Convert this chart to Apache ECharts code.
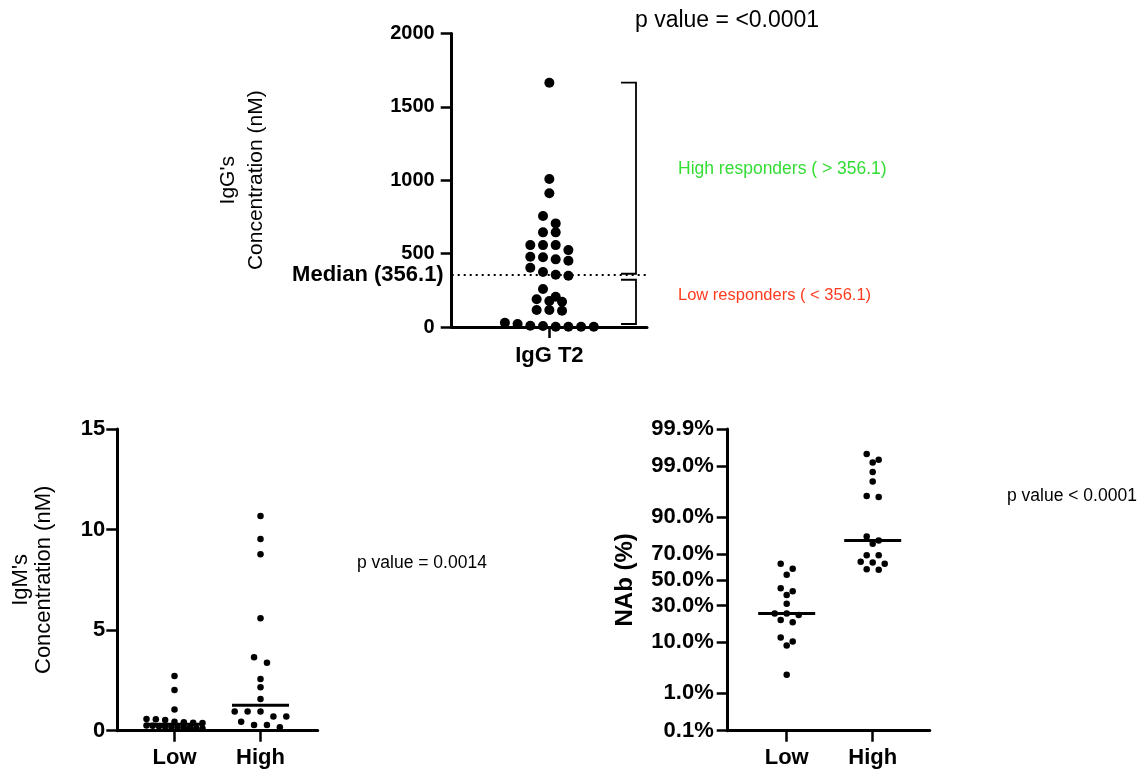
<!DOCTYPE html>
<html>
<head>
<meta charset="utf-8">
<script src="https://cdn.jsdelivr.net/npm/echarts@6.0.0/dist/echarts.min.js"></script>
<style>
  body { margin: 0; background: #fff; }
  #chart { width: 1146px; height: 773px; }
</style>
</head>
<body>
<div id="chart"></div>
<script>
// --- data ---
const iggCategory = ['IgG T2'];
const iggT2 = [1665, 1008, 911, 756, 706, 645, 645, 558, 558, 558, 524, 479, 475, 461, 452,
  404, 375, 356.1, 349, 259, 206, 189, 177, 172, 116, 116, 111, 29, 20, 9, 7, 2, 2, 2, 2];

const groups = ['Low', 'High'];
const igmLow = [2.72, 2.02, 1.06, 0.58, 0.57, 0.53, 0.44, 0.42, 0.40, 0.38,
  0.26, 0.24, 0.22, 0.20, 0.18, 0.17, 0.16, 0.15, 0.13, 0.11];
const igmHigh = [10.68, 9.53, 8.77, 5.59, 3.65, 3.38, 2.57, 2.16, 1.58,
  0.95, 0.95, 0.95, 0.70, 0.70, 0.45, 0.28, 0.28, 0.17];

const nabLow = [62.9, 58.9, 54.1, 43.2, 40.8, 37.9, 31.2, 24.6, 24.6, 23.6, 20.6, 19.2, 11.9, 10.3, 8.9, 2.6];
const nabHigh = [99.50, 99.31, 99.19, 98.64, 97.8, 95.7, 95.5, 81.3, 79.0, 77.0, 69.3, 69.3, 64.4, 63.9, 62.9, 58.5, 58.1];
const nabTicks = [0.1, 1, 10, 30, 50, 70, 90, 99, 99.9];

const FONT = 'Liberation Sans, Arial, sans-serif';

function median(arr) {
    const s = arr.slice().sort((a, b) => a - b);
    const m = Math.floor(s.length / 2);
    return s.length % 2 ? s[m] : (s[m - 1] + s[m]) / 2;
}

// inverse normal cdf (Acklam) for the probability axis
function probit(p) {
    const a = [-3.969683028665376e+01, 2.209460984245205e+02, -2.759285104469687e+02, 1.383577518672690e+02, -3.066479806614716e+01, 2.506628277459239e+00];
    const b = [-5.447609879822406e+01, 1.615858368580409e+02, -1.556989798598866e+02, 6.680131188771972e+01, -1.328068155288572e+01];
    const c = [-7.784894002430293e-03, -3.223964580411365e-01, -2.400758277161838e+00, -2.549732539343734e+00, 4.374664141464968e+00, 2.938163982698783e+00];
    const d = [7.784695709041462e-03, 3.224671290700398e-01, 2.445134176071144e+00, 3.754408061089303e+00];
    const plow = 0.02425;
    let q, r;
    if (p < plow) {
        q = Math.sqrt(-2 * Math.log(p));
        return (((((c[0]*q+c[1])*q+c[2])*q+c[3])*q+c[4])*q+c[5]) / ((((d[0]*q+d[1])*q+d[2])*q+d[3])*q+1);
    }
    if (p <= 1 - plow) {
        q = p - 0.5; r = q * q;
        return (((((a[0]*r+a[1])*r+a[2])*r+a[3])*r+a[4])*r+a[5])*q / (((((b[0]*r+b[1])*r+b[2])*r+b[3])*r+b[4])*r+1);
    }
    q = Math.sqrt(-2 * Math.log(1 - p));
    return -(((((c[0]*q+c[1])*q+c[2])*q+c[3])*q+c[4])*q+c[5]) / ((((d[0]*q+d[1])*q+d[2])*q+d[3])*q+1);
}

// simple row-based beeswarm, like the dot plots of the original
function swarm(vals, cat, pxPerY, pxPerX, bin, step, maxSpan) {
    const sorted = vals.slice().sort((a, b) => b - a);
    const out = [];
    let row = [];
    const flush = () => {
        let s = step;
        if (row.length > 1 && (row.length - 1) * s > maxSpan) s = maxSpan / (row.length - 1);
        row.forEach((v, i) => out.push([cat + (i - (row.length - 1) / 2) * s / pxPerX, v]));
        row = [];
    };
    sorted.forEach(v => {
        if (row.length && (row[0] - v) * pxPerY > bin) flush();
        row.push(v);
    });
    flush();
    return out;
}

// grids (px)
const g0 = {left: 451.7, top: 33.5, width: 195.3, height: 293.5};
const g1 = {left: 117.3, top: 429, width: 200.4, height: 301.7};
const g2 = {left: 727.7, top: 429, width: 202.1, height: 301.7};

const iggMedian = median(iggT2);
const iggMax = Math.max(...iggT2);
const zMin = probit(0.001), zMax = probit(0.999);
const nabTickZ = nabTicks.map(t => probit(t / 100));

const iggPts = swarm(iggT2, 0, g0.height / 2000, g0.width / 2, 9, 12.7, 200);
const igmLowPts = swarm(igmLow, 0, g1.height / 15, 86, 6, 12.9, 56);
const igmHighPts = swarm(igmHigh, 1, g1.height / 15, 86, 6, 12.9, 56);
const nabLowZ = nabLow.map(v => probit(v / 100));
const nabHighZ = nabHigh.map(v => probit(v / 100));
const nabLowPts = swarm(nabLowZ, 0, g2.height / (zMax - zMin), 86, 6, 12, 56);
const nabHighPts = swarm(nabHighZ, 1, g2.height / (zMax - zMin), 86, 6, 12, 56);

const axisLine = {show: true, onZero: false, lineStyle: {color: '#000', width: 3}};
const axisTick = {show: true, length: 11, lineStyle: {color: '#000', width: 2.5}};
const tickLabel = {color: '#000', fontFamily: FONT, fontWeight: 'bold', fontSize: 20};

function xCatAxis(grid, min, max, cats, margin) {
    return {
        type: 'value', gridIndex: grid, min: min, max: max,
        axisLine: axisLine, splitLine: {show: false},
        axisTick: Object.assign({}, axisTick, {customValues: cats.map((c, i) => i)}),
        axisLabel: Object.assign({}, tickLabel, {
            customValues: cats.map((c, i) => i), margin: margin, fontSize: 22,
            formatter: v => cats[Math.round(v)]
        })
    };
}

function dots(xi, pts, size) {
    return {type: 'scatter', xAxisIndex: xi, yAxisIndex: xi, data: pts, symbolSize: size,
        itemStyle: {color: '#000', opacity: 1}, clip: false, silent: true, z: 3};
}

function medianBar(xi, cat, val) {
    return {type: 'scatter', xAxisIndex: xi, yAxisIndex: xi, data: [[cat, val]], symbol: 'rect',
        symbolSize: [57, 3], itemStyle: {color: '#000', opacity: 1}, clip: false, silent: true, z: 4};
}

const chart = echarts.init(document.getElementById('chart'));
chart.setOption({
    animation: false,
    backgroundColor: '#fff',
    grid: [g0, g1, g2],
    xAxis: [
        xCatAxis(0, -1, 1, iggCategory, 18),
        xCatAxis(1, -0.665, 1.665, groups, 16),
        xCatAxis(2, -0.686, 1.664, groups, 16)
    ],
    yAxis: [
        {
            type: 'value', gridIndex: 0, min: 0, max: 2000, interval: 500,
            axisLine: axisLine, axisTick: axisTick, splitLine: {show: false},
            axisLabel: Object.assign({}, tickLabel, {margin: 17, formatter: v => String(v)}),
            name: "IgG's\nConcentration (nM)", nameLocation: 'middle', nameGap: 181,
            nameTextStyle: {color: '#000', fontFamily: FONT, fontSize: 21, lineHeight: 28}
        },
        {
            type: 'value', gridIndex: 1, min: 0, max: 15, interval: 5,
            axisLine: axisLine, axisTick: axisTick, splitLine: {show: false},
            axisLabel: Object.assign({}, tickLabel, {margin: 12, fontSize: 22}),
            name: "IgM's\nConcentration (nM)", nameLocation: 'middle', nameGap: 62,
            nameTextStyle: {color: '#000', fontFamily: FONT, fontSize: 22, lineHeight: 23}
        },
        {
            type: 'value', gridIndex: 2, min: zMin - 1e-9, max: zMax + 1e-9,
            axisLine: axisLine, splitLine: {show: false},
            axisTick: Object.assign({}, axisTick, {customValues: nabTickZ}),
            axisLabel: Object.assign({}, tickLabel, {
                margin: 14, fontSize: 22, customValues: nabTickZ,
                formatter: v => {
                    const i = nabTickZ.findIndex(z => Math.abs(z - v) < 1e-6);
                    return i < 0 ? '' : nabTicks[i].toFixed(1) + '%';
                }
            }),
            name: 'NAb (%)', nameLocation: 'middle', nameGap: 90,
            nameTextStyle: {color: '#000', fontFamily: FONT, fontSize: 24, fontWeight: 'bold'}
        }
    ],
    series: [
        Object.assign(dots(0, iggPts, 10), {
            markLine: {
                silent: true, symbol: 'none',
                lineStyle: {color: '#000', width: 2, type: [2, 4]},
                label: {position: 'start', distance: 8, formatter: 'Median (' + iggMedian + ')',
                    color: '#000', fontFamily: FONT, fontWeight: 'bold', fontSize: 22},
                data: [{yAxis: iggMedian}]
            }
        }),
        {
            type: 'custom', xAxisIndex: 0, yAxisIndex: 0, data: [[0, 0]], silent: true, clip: false,
            renderItem: (params, api) => {
                const cs = params.coordSys;
                const xr = cs.x + cs.width - 11;
                const xl = xr - 15;
                const yTop = api.coord([0, iggMax])[1];
                const yMed = api.coord([0, iggMedian])[1];
                const y0 = api.coord([0, 0])[1];
                const st = {stroke: '#000', lineWidth: 1.8, fill: 'none'};
                return {type: 'group', children: [
                    {type: 'polyline', shape: {points: [[xl, yTop], [xr, yTop], [xr, yMed - 1], [xl, yMed - 1]]}, style: st},
                    {type: 'polyline', shape: {points: [[xl, yMed + 5], [xr, yMed + 5], [xr, y0 - 3], [xl, y0 - 3]]}, style: st}
                ]};
            }
        },
        dots(1, igmLowPts, 6.5),
        dots(1, igmHighPts, 6.5),
        medianBar(1, 0, median(igmLow)),
        medianBar(1, 1, median(igmHigh)),
        dots(2, nabLowPts, 6.5),
        dots(2, nabHighPts, 6.5),
        medianBar(2, 0, probit(median(nabLow) / 100)),
        medianBar(2, 1, probit(median(nabHigh) / 100))
    ],
    graphic: [
        {type: 'text', left: 635, top: 9, style: {text: 'p value = <0.0001', font: '23px ' + FONT, fill: '#000'}},
        {type: 'text', left: 678, top: 160, style: {text: 'High responders ( > 356.1)', font: '17.5px ' + FONT, fill: '#33dd33'}},
        {type: 'text', left: 678, top: 287, style: {text: 'Low responders ( < 356.1)', font: '16.5px ' + FONT, fill: '#ff3b1f'}},
        {type: 'text', left: 357, top: 554, style: {text: 'p value = 0.0014', font: '17.5px ' + FONT, fill: '#000'}},
        {type: 'text', left: 1007, top: 487, style: {text: 'p value < 0.0001', font: '17.5px ' + FONT, fill: '#000'}}
    ]
});
</script>
</body>
</html>
